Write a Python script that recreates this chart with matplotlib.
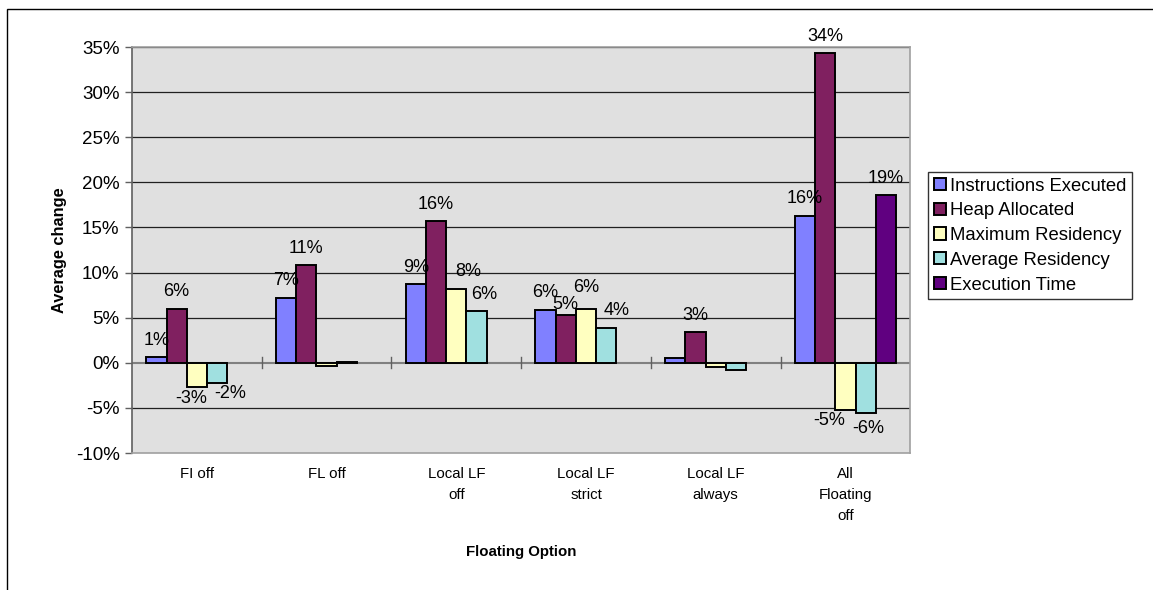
import numpy as np
import matplotlib.pyplot as plt
from matplotlib.patches import Rectangle

plt.rcParams['font.family'] = ['Liberation Sans', 'DejaVu Sans']

# Average change per floating option (percent)
categories = ["FI off", "FL off", "Local LF\noff", "Local LF\nstrict", "Local LF\nalways", "All\nFloating\noff"]
series = ["Instructions Executed", "Heap Allocated", "Maximum Residency", "Average Residency", "Execution Time"]
instructions = [0.6, 7.2, 8.7, 5.9, 0.5, 16.3]
heap = [6.0, 10.8, 15.7, 5.3, 3.4, 34.3]
max_res = [-2.7, -0.35, 8.2, 6.0, -0.5, -5.2]
avg_res = [-2.2, 0.1, 5.7, 3.9, -0.8, -5.55]
exec_time = [np.nan, np.nan, np.nan, np.nan, np.nan, 18.6]

# which bars carry a value label
shown = [
    [True, True, True, True, False, True],
    [True, True, True, True, True, True],
    [True, False, True, True, False, True],
    [True, False, True, True, False, True],
    [False, False, False, False, False, True],
]

colors = ["#8080FF", "#802060", "#FFFFC0", "#A0E0E0", "#600080"]
values = [instructions, heap, max_res, avg_res, exec_time]

# small label nudges (pixels) so neighbouring labels don't pile up
nudge = {
    (2, 0): (-6, 0), (3, 0): (13, 0),
    (2, 2): (12, 0), (3, 2): (8, 0),
    (1, 3): (0, -6), (2, 3): (0, 4), (3, 3): (10, 0),
    (2, 5): (-16, 0), (3, 5): (3, -4),
}

fig = plt.figure(figsize=(11.53, 5.9), dpi=100)
ax = fig.add_axes([0.1145, 0.2322, 0.675, 0.6881])
ax.set_facecolor("#E0E0E0")

x = np.arange(len(categories))
w = 0.156
for i, (vals, c) in enumerate(zip(values, colors)):
    pos = x - 2 * w + i * w
    ax.bar(pos, vals, width=w, color=c, edgecolor="black", linewidth=1.4,
           label=series[i], zorder=3)
    for j, (p, v, s) in enumerate(zip(pos, vals, shown[i])):
        if not s or np.isnan(v):
            continue
        txt = "%d%%" % int(np.sign(v) * np.floor(abs(v) + 0.5))
        dx, dy = nudge.get((i, j), (0, 0))
        dx, dy = dx * 0.72, dy * 0.72
        if v >= 0:
            ax.annotate(txt, (p, v), xytext=(dx, 6 + dy), textcoords="offset points",
                        ha="center", va="bottom", fontsize=13, zorder=5)
        else:
            ax.annotate(txt, (p, v), xytext=(dx, -2 + dy), textcoords="offset points",
                        ha="center", va="top", fontsize=13, zorder=5)

ax.set_xlim(-0.5, len(categories) - 0.5)
ax.set_ylim(-10, 35)
yt = np.arange(-10, 36, 5)
ax.set_yticks(yt)
ax.set_yticklabels(["%d%%" % t for t in yt], fontsize=13.5)
for t in yt:
    if t not in (-10, 0):
        ax.axhline(t, color="#202020", linewidth=0.9, zorder=1)

# category axis sits on the zero line
ax.axhline(0, color="#808080", linewidth=1.5, zorder=2)
for b in np.arange(0.5, len(categories) - 1, 1.0):
    ax.plot([b, b], [-0.6, 0.6], color="#606060", linewidth=1.0, zorder=2)

ax.set_xticks(x)
ax.set_xticklabels(categories, fontsize=10.8, linespacing=1.65, va="top")
ax.tick_params(axis="x", length=0, pad=10)
ax.tick_params(axis="y", length=5, width=1, color="#606060", pad=4)

for side in ["top", "right", "bottom"]:
    ax.spines[side].set_color("#A0A0A0")
    ax.spines[side].set_linewidth(1.2)
ax.spines["left"].set_color("#606060")
ax.spines["left"].set_linewidth(1.2)

ax.set_ylabel("Average change", fontsize=11.8, fontweight="bold", labelpad=6)
ax.set_xlabel("Floating Option", fontsize=10.8, fontweight="bold", labelpad=16)

leg = fig.legend(loc="upper left", bbox_to_anchor=(928 / 1153, 1 - 172 / 590),
                 fontsize=13.3, frameon=True, fancybox=False, borderpad=0.3,
                 handlelength=0.65, handleheight=0.65, handletextpad=0.25,
                 labelspacing=0.42, borderaxespad=0)
leg.get_frame().set_edgecolor("black")
leg.get_frame().set_linewidth(1.0)

# chart area border
fig.patches.append(Rectangle((7 / 1153, -0.1), 1.2, 1 - 9 / 590 + 0.1,
                             transform=fig.transFigure, fill=False,
                             edgecolor="black", linewidth=1.0))

fig.savefig("out.png", dpi=100)
